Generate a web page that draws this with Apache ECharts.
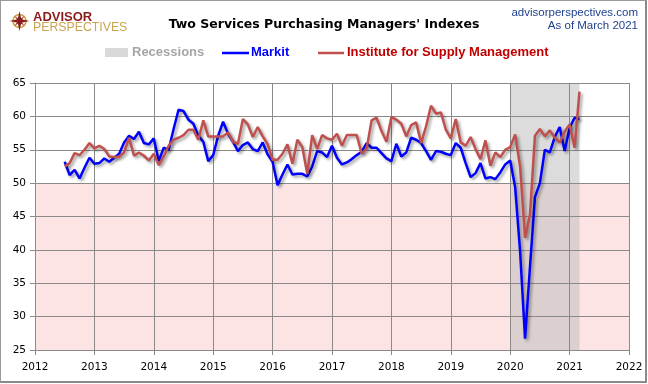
<!DOCTYPE html>
<html>
<head>
<meta charset="utf-8">
<script src="https://cdn.jsdelivr.net/npm/echarts@6/dist/echarts.min.js"></script>
<style>
  html, body { margin: 0; padding: 0; background: #fff; }
  #wrap { position: relative; width: 648px; height: 384px; overflow: hidden; }
  #chart { position: absolute; left: 0; top: 0; width: 648px; height: 384px; }
  #frame { position: absolute; left: 0; top: 0; width: 644px; height: 380px;
           border: 1px solid #9a9a9a; border-right: 2px solid #8a8a8a; border-bottom: 2px solid #8a8a8a;
           pointer-events: none; }
</style>
</head>
<body>
<div id="wrap"><div id="chart"></div><div id="frame"></div></div>
<script>
// ---- Data (monthly, starting July 2012) ----
const startMonth = '2012-07';
const markit = [
  53.2, 51.2, 52.0, 50.7, 52.3, 53.8,                                   // 2012 Jul-Dec
  52.9, 53.0, 53.7, 53.2, 53.8, 54.4, 56.1, 57.1, 56.6, 57.7, 56.0, 55.8, // 2013
  56.7, 53.3, 55.3, 55.0, 58.1, 61.0, 60.8, 59.5, 58.9, 57.1, 56.2, 53.3, // 2014
  54.2, 57.1, 59.2, 57.4, 56.2, 54.8, 55.7, 56.1, 55.1, 54.8, 56.1, 54.3, // 2015
  53.2, 49.7, 51.3, 52.8, 51.3, 51.4, 51.4, 51.0, 52.5, 54.8, 54.6, 53.9, // 2016
  55.6, 53.8, 52.8, 53.1, 53.6, 54.2, 54.7, 56.0, 55.3, 55.3, 54.5, 53.7, // 2017
  53.3, 55.9, 54.0, 54.6, 56.8, 56.5, 56.0, 54.8, 53.5, 54.8, 54.7, 54.4, // 2018
  54.2, 56.0, 55.3, 53.0, 50.9, 51.5, 53.0, 50.7, 50.9, 50.6, 51.6, 52.8, // 2019
  53.4, 49.4, 39.8, 26.7, 37.5, 47.9, 50.0, 55.0, 54.6, 56.9, 58.4, 54.8, // 2020
  58.3, 59.8, 59.6                                                      // 2021 Jan-Mar
];
const ism = [
  52.5, 53.0, 54.5, 54.2, 55.0, 56.0,
  55.2, 55.6, 55.1, 54.0, 53.9, 54.0, 54.6, 56.8, 54.1, 54.6, 54.1, 53.4,
  54.4, 52.7, 54.0, 55.6, 56.5, 56.8, 57.2, 58.0, 58.0, 56.5, 59.4, 57.0,
  57.0, 57.0, 57.0, 57.6, 56.2, 55.9, 59.6, 58.8, 56.9, 58.4, 57.0, 55.8,
  53.5, 53.5, 54.4, 55.8, 52.9, 56.5, 55.4, 51.4, 57.2, 55.1, 57.2, 56.7,
  56.5, 57.4, 55.6, 57.2, 57.2, 57.2, 54.4, 55.2, 59.4, 59.8, 57.8, 56.2,
  59.9, 59.5, 58.9, 57.0, 58.7, 59.1, 56.0, 58.5, 61.6, 60.4, 60.6, 58.0,
  56.7, 59.6, 56.1, 55.6, 56.9, 55.1, 53.6, 56.4, 52.6, 54.6, 53.9, 55.0,
  55.4, 57.3, 52.5, 41.8, 45.3, 57.1, 58.1, 57.0, 57.9, 56.8, 56.1, 57.7,
  58.8, 55.3, 63.7
];
const recessions = [['2020-01', '2021-03']];
const contractionBand = [25, 50];
const xTicks = [2012, 2022, 1];   // min, max, step (years)
const yTicks = [25, 65, 5];       // min, max, step

// ---- helpers ----
function monthList(start, n) {
  let [y, m] = start.split('-').map(Number);
  const out = [];
  for (let i = 0; i < n; i++) {
    out.push(y + '-' + String(m).padStart(2, '0'));
    m++; if (m > 12) { m = 1; y++; }
  }
  return out;
}
function toYear(s) { const [y, m] = s.split('-').map(Number); return y + (m - 1) / 12; }
const months = monthList(startMonth, markit.length);
const markitData = markit.map((v, i) => [toYear(months[i]), v]);
const ismData = ism.map((v, i) => [toYear(months[i]), v]);

const axisFont = { fontFamily: 'DejaVu Sans', fontSize: 10.5, color: '#000' };
const gridColor = '#8a8a8a';
const shadow = { shadowColor: 'rgba(0,0,0,0.38)', shadowBlur: 3, shadowOffsetX: 2, shadowOffsetY: 2 };

const chart = echarts.init(document.getElementById('chart'), null, { renderer: 'canvas' });
chart.setOption({
  animation: false,
  backgroundColor: '#fff',
  title: {
    text: "Two Services Purchasing Managers' Indexes",
    left: 'center', top: 13,
    textStyle: { fontFamily: 'DejaVu Sans', fontWeight: 'bold', fontSize: 12.5, color: '#000' }
  },
  grid: { left: 35, right: 19, top: 83, bottom: 34, containLabel: false },
  xAxis: {
    type: 'value', min: xTicks[0], max: xTicks[1], interval: xTicks[2], z: 3,
    axisLine: { show: true, onZero: false, lineStyle: { color: gridColor, width: 1 } },
    axisTick: { show: true, length: 5, lineStyle: { color: gridColor } },
    splitLine: { show: true, lineStyle: { color: gridColor, width: 1 } },
    axisLabel: Object.assign({ margin: 12, formatter: v => String(v) }, axisFont)
  },
  yAxis: {
    type: 'value', min: yTicks[0], max: yTicks[1], interval: yTicks[2], z: 3,
    axisLine: { show: true, lineStyle: { color: gridColor, width: 1 } },
    axisTick: { show: true, length: 5, lineStyle: { color: gridColor } },
    splitLine: { show: true, lineStyle: { color: gridColor, width: 1 } },
    axisLabel: Object.assign({ margin: 9 }, axisFont)
  },
  series: [
    {
      name: 'Contraction', type: 'line', data: [], z: 1, silent: true,
      markArea: { silent: true, itemStyle: { color: '#fde4e4' },
        data: [[{ yAxis: contractionBand[0] }, { yAxis: contractionBand[1] }]] }
    },
    {
      name: 'Recessions', type: 'line', data: [], z: 2, silent: true,
      markArea: { silent: true, itemStyle: { color: 'rgba(185,185,185,0.5)' },
        data: recessions.map(r => [{ xAxis: toYear(r[0]) }, { xAxis: toYear(r[1]) }]) }
    },
    {
      name: 'Markit', type: 'line', data: markitData, z: 4, symbol: 'none',
      lineStyle: Object.assign({ color: '#0000ff', width: 2.5 }, shadow)
    },
    {
      name: 'Institute for Supply Management', type: 'line', data: ismData, z: 5, symbol: 'none',
      lineStyle: Object.assign({ color: '#c0504d', width: 2.5 }, shadow)
    }
  ],
  graphic: [
    // logo icon
    { type: 'circle', shape: { cx: 19.5, cy: 21, r: 6.5 }, style: { fill: 'none', stroke: '#c9a54e', lineWidth: 1.6 } },
    { type: 'polygon', shape: { points: [[19.5,11],[21.3,19.2],[29.5,21],[21.3,22.8],[19.5,31],[17.7,22.8],[9.5,21],[17.7,19.2]] },
      style: { fill: '#8b1c1c' } },
    { type: 'polygon', shape: { points: [[14.5,16],[19.5,19.5],[24.5,16],[21,21],[24.5,26],[19.5,22.5],[14.5,26],[18,21]] },
      style: { fill: '#8b1c1c' } },
    { type: 'text', left: 33, top: 11, style: { text: 'ADVISOR', fill: '#8b1c1c',
      font: 'bold 13px "Liberation Sans", Arial, sans-serif' } },
    { type: 'text', left: 33, top: 22, style: { text: 'PERSPECTIVES', fill: '#c9a54e',
      font: '12.3px "Liberation Sans", Arial, sans-serif' } },
    // top right
    { type: 'text', right: 10, top: 7, style: { text: 'advisorperspectives.com', fill: '#1f3f8f',
      font: '11.5px "Liberation Sans", Arial, sans-serif', textAlign: 'right' } },
    { type: 'text', right: 10, top: 20, style: { text: 'As of March 2021', fill: '#1f3f8f',
      font: '11.5px "Liberation Sans", Arial, sans-serif', textAlign: 'right' } },
    // legend
    { type: 'rect', shape: { x: 105, y: 48, width: 23, height: 9 }, style: { fill: '#d9d9d9' } },
    { type: 'text', left: 132, top: 46, style: { text: 'Recessions', fill: '#a6a6a6',
      font: 'bold 13px "Liberation Sans", Arial, sans-serif' } },
    { type: 'line', shape: { x1: 222, y1: 53, x2: 249, y2: 53 }, style: { stroke: '#0000ff', lineWidth: 2.5 } },
    { type: 'text', left: 251, top: 46, style: { text: 'Markit', fill: '#0000ff',
      font: 'bold 13px "Liberation Sans", Arial, sans-serif' } },
    { type: 'line', shape: { x1: 318, y1: 53, x2: 344, y2: 53 }, style: { stroke: '#c0504d', lineWidth: 2.5 } },
    { type: 'text', left: 347, top: 46, style: { text: 'Institute for Supply Management', fill: '#c00000',
      font: 'bold 13px "Liberation Sans", Arial, sans-serif' } }
  ]
});
</script>
</body>
</html>
